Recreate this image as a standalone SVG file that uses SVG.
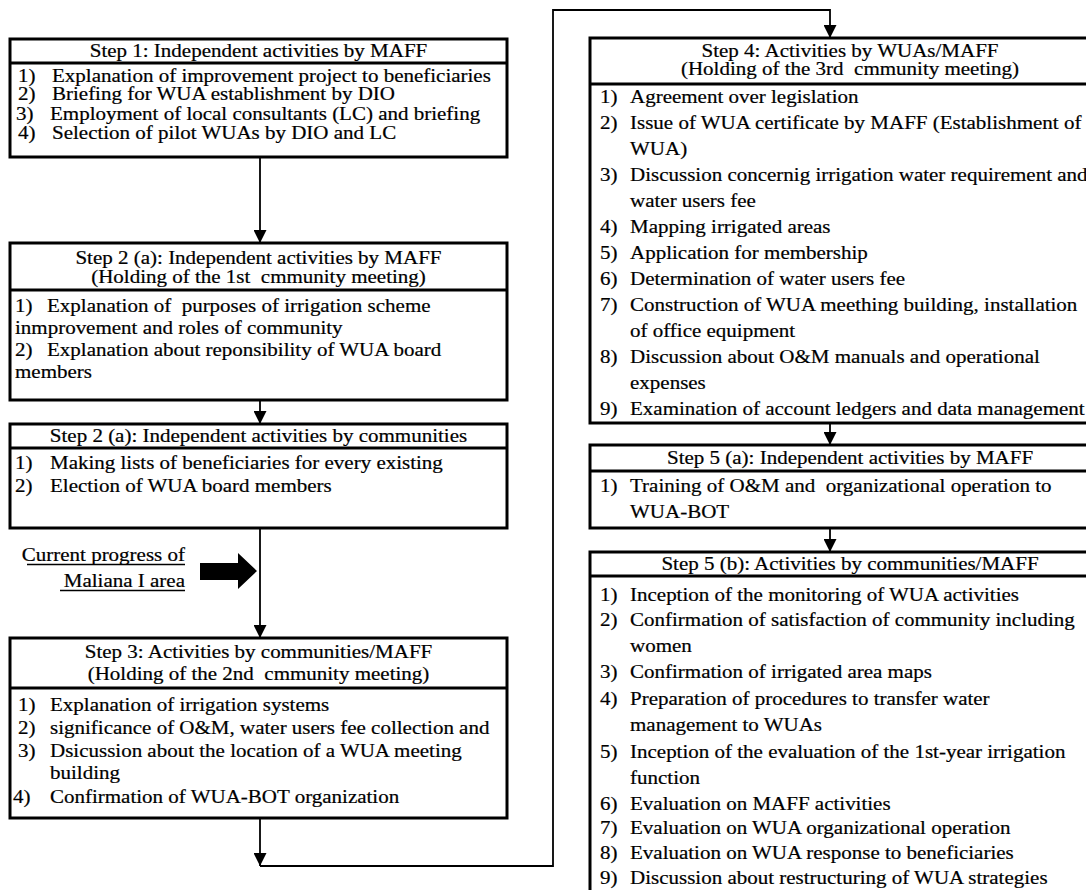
<svg xmlns="http://www.w3.org/2000/svg" width="1086" height="890" viewBox="0 0 1086 890">
<style>
.b{fill:#fff;stroke:#000;stroke-width:3}
.s{stroke:#000;stroke-width:3}
.c{fill:none;stroke:#000;stroke-width:1.8}
text{font-family:"Liberation Serif","Times New Roman",serif;font-size:18px;fill:#000;stroke:#000;stroke-width:0.2px;white-space:pre}
.m{text-anchor:middle}
.e{text-anchor:end}
</style>
<defs>
<marker id="ah" viewBox="0 0 13 13" refX="13" refY="6.5" markerWidth="13" markerHeight="13" markerUnits="userSpaceOnUse" orient="auto"><path d="M0,0 L13,6.5 L0,13 z" fill="#000"/></marker>
</defs>
<rect width="1086" height="890" fill="#fff"/>

<g id="connectors">
<line class="c" x1="260" y1="157" x2="260" y2="243" marker-end="url(#ah)"/>
<line class="c" x1="260" y1="400" x2="260" y2="424" marker-end="url(#ah)"/>
<line class="c" x1="260" y1="528" x2="260" y2="638" marker-end="url(#ah)"/>
<line class="c" x1="260" y1="818" x2="260" y2="866" marker-end="url(#ah)"/>
<polyline class="c" points="260,866 553,866 553,10 830,10 830,38" marker-end="url(#ah)"/>
<line class="c" x1="830" y1="423" x2="830" y2="445" marker-end="url(#ah)"/>
<line class="c" x1="830" y1="528" x2="830" y2="552" marker-end="url(#ah)"/>
</g>

<g id="step1">
<rect class="b" x="10" y="39" width="497" height="118"/>
<line class="s" x1="10" y1="63" x2="507" y2="63"/>
<g transform="scale(1.1667,1)">
<text class="m" x="221.57" y="57">Step 1: Independent activities by MAFF</text>
<text x="15.43" y="82">1)<tspan x="44.57">Explanation of improvement project to beneficiaries</tspan></text>
<text x="15.43" y="100">2)<tspan x="44.57">Briefing for WUA establishment by DIO</tspan></text>
<text x="13.71" y="120">3)<tspan x="42.86">Employment of local consultants (LC) and briefing</tspan></text>
<text x="15.43" y="139">4)<tspan x="44.57">Selection of pilot WUAs by DIO and LC</tspan></text>
</g>
</g>

<g id="step2a-maff">
<rect class="b" x="10" y="243" width="497" height="157"/>
<line class="s" x1="10" y1="290" x2="507" y2="290"/>
<g transform="scale(1.1667,1)">
<text class="m" x="221.57" y="264">Step 2 (a): Independent activities by MAFF</text>
<text class="m" x="221.57" y="283">(Holding of the 1st  cmmunity meeting)</text>
<text x="12.86" y="312">1)<tspan x="40.29">Explanation of  purposes of irrigation scheme</tspan></text>
<text x="12.86" y="334">inmprovement and roles of community</text>
<text x="12.86" y="356">2)<tspan x="40.29">Explanation about reponsibility of WUA board</tspan></text>
<text x="12.86" y="378">members</text>
</g>
</g>

<g id="step2a-communities">
<rect class="b" x="10" y="424" width="497" height="104"/>
<line class="s" x1="10" y1="448" x2="507" y2="448"/>
<g transform="scale(1.1667,1)">
<text class="m" x="221.57" y="442">Step 2 (a): Independent activities by communities</text>
<text x="12.86" y="469">1)<tspan x="42.86">Making lists of beneficiaries for every existing</tspan></text>
<text x="12.86" y="492">2)<tspan x="42.86">Election of WUA board members</tspan></text>
</g>
</g>

<g id="progress">
<g transform="scale(1.1667,1)">
<text class="e" x="158.57" y="561">Current progress of</text>
<text class="e" x="158.57" y="587">Maliana I area</text>
</g>
<line x1="27" y1="564.5" x2="185" y2="564.5" stroke="#000" stroke-width="1.5"/>
<line x1="60" y1="590.5" x2="185" y2="590.5" stroke="#000" stroke-width="1.5"/>
<polygon points="200,563 238,563 238,553 257,571 238,589 238,580 200,580" fill="#000"/>
</g>

<g id="step3">
<rect class="b" x="10" y="638" width="497" height="180"/>
<line class="s" x1="10" y1="688" x2="507" y2="688"/>
<g transform="scale(1.1667,1)">
<text class="m" x="221.57" y="658">Step 3: Activities by communities/MAFF</text>
<text class="m" x="221.57" y="680">(Holding of the 2nd  cmmunity meeting)</text>
<text x="15.43" y="711">1)<tspan x="42.86">Explanation of irrigation systems</tspan></text>
<text x="15.43" y="734">2)<tspan x="42.86">significance of O&amp;M, water users fee collection and</tspan></text>
<text x="15.43" y="757">3)<tspan x="42.86">Dsicussion about the location of a WUA meeting</tspan></text>
<text x="42.86" y="779">building</text>
<text x="11.14" y="803">4)<tspan x="42.86">Confirmation of WUA-BOT organization</tspan></text>
</g>
</g>

<g id="step4">
<rect class="b" x="590" y="38" width="530" height="385"/>
<line class="s" x1="590" y1="84" x2="1120" y2="84"/>
<g transform="scale(1.1667,1)">
<text class="m" x="728.57" y="57">Step 4: Activities by WUAs/MAFF</text>
<text class="m" x="728.57" y="75">(Holding of the 3rd  cmmunity meeting)</text>
<text x="514.29" y="103">1)<tspan x="540">Agreement over legislation</tspan></text>
<text x="514.29" y="129">2)<tspan x="540">Issue of WUA certificate by MAFF (Establishment of</tspan></text>
<text x="540" y="155">WUA)</text>
<text x="514.29" y="181">3)<tspan x="540">Discussion concernig irrigation water requirement and</tspan></text>
<text x="540" y="207">water users fee</text>
<text x="514.29" y="233">4)<tspan x="540">Mapping irrigated areas</tspan></text>
<text x="514.29" y="259">5)<tspan x="540">Application for membership</tspan></text>
<text x="514.29" y="285">6)<tspan x="540">Determination of water users fee</tspan></text>
<text x="514.29" y="311">7)<tspan x="540">Construction of WUA meething building, installation</tspan></text>
<text x="540" y="337">of office equipment</text>
<text x="514.29" y="363">8)<tspan x="540">Discussion about O&amp;M manuals and operational</tspan></text>
<text x="540" y="389">expenses</text>
<text x="514.29" y="415">9)<tspan x="540">Examination of account ledgers and data management</tspan></text>
</g>
</g>

<g id="step5a">
<rect class="b" x="590" y="445" width="530" height="83"/>
<line class="s" x1="590" y1="471" x2="1120" y2="471"/>
<g transform="scale(1.1667,1)">
<text class="m" x="728.57" y="464">Step 5 (a): Independent activities by MAFF</text>
<text x="514.29" y="492">1)<tspan x="540">Training of O&amp;M and  organizational operation to</tspan></text>
<text x="540" y="518">WUA-BOT</text>
</g>
</g>

<g id="step5b">
<rect class="b" x="590" y="552" width="530" height="360"/>
<line class="s" x1="590" y1="576" x2="1120" y2="576"/>
<g transform="scale(1.1667,1)">
<text class="m" x="728.57" y="570">Step 5 (b): Activities by communities/MAFF</text>
<text x="514.29" y="601">1)<tspan x="540">Inception of the monitoring of WUA activities</tspan></text>
<text x="514.29" y="626">2)<tspan x="540">Confirmation of satisfaction of community including</tspan></text>
<text x="540" y="652">women</text>
<text x="514.29" y="678">3)<tspan x="540">Confirmation of irrigated area maps</tspan></text>
<text x="514.29" y="705">4)<tspan x="540">Preparation of procedures to transfer water</tspan></text>
<text x="540" y="731">management to WUAs</text>
<text x="514.29" y="758">5)<tspan x="540">Inception of the evaluation of the 1st-year irrigation</tspan></text>
<text x="540" y="784">function</text>
<text x="514.29" y="810">6)<tspan x="540">Evaluation on MAFF activities</tspan></text>
<text x="514.29" y="834">7)<tspan x="540">Evaluation on WUA organizational operation</tspan></text>
<text x="514.29" y="859">8)<tspan x="540">Evaluation on WUA response to beneficiaries</tspan></text>
<text x="514.29" y="884">9)<tspan x="540">Discussion about restructuring of WUA strategies</tspan></text>
</g>
</g>
</svg>
